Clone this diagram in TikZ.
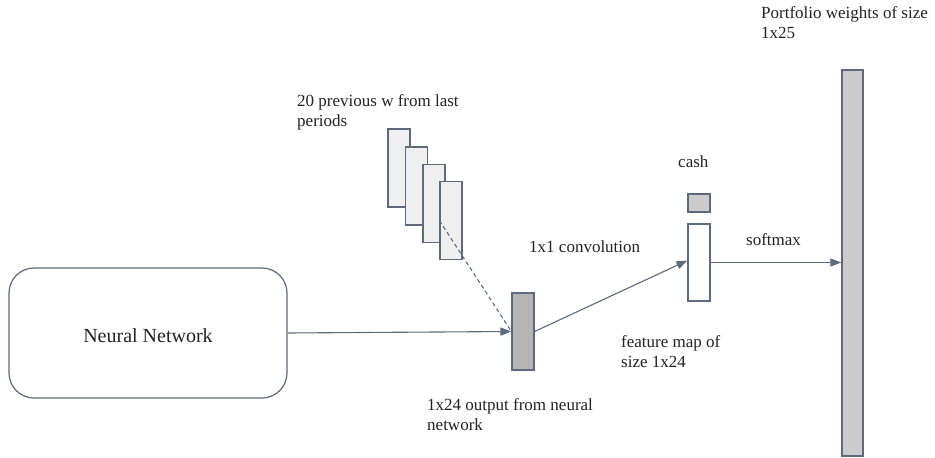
\documentclass[tikz,border=0pt]{standalone}
\usepackage{fontspec}
\setmainfont{Liberation Serif}
\usetikzlibrary{arrows.meta}
\definecolor{edge}{HTML}{5B6A7E}
\definecolor{lite}{HTML}{EFEFEF}
\definecolor{mid}{HTML}{CCCCCC}
\definecolor{dark}{HTML}{B5B5B5}
\definecolor{txt}{HTML}{222222}
\tikzset{
  bar/.style={draw=edge, line width=1.2pt, inner sep=0pt, minimum width=22pt},
  conn/.style={draw=edge, line width=1.1pt, -{Triangle[length=11pt,width=8pt]}},
  lbl/.style={inner sep=0pt, anchor=north west, align=left, text=txt, font=\fontsize{17}{20}\selectfont},
}
\begin{document}
\begin{tikzpicture}[x=1pt,y=-1pt]
\useasboundingbox (0,0) rectangle (935,458);
% boxes
\node[draw=edge, line width=1.2pt, rounded corners=25pt, minimum width=278pt, minimum height=130pt, inner sep=0pt] (nn) at (148,333) {};
\node[anchor=base, text=txt, font=\fontsize{20}{24}\selectfont, inner sep=0pt] (nnt) at (148,342) {Neural Network};
\node[bar, fill=lite, minimum height=78pt] (w1) at (399,168) {};
\node[bar, fill=lite, minimum height=78pt] (w2) at (416.5,186) {};
\node[bar, fill=lite, minimum height=78pt] (w3) at (434,203.5) {};
\node[bar, fill=lite, minimum height=78pt] (w4) at (451,220.5) {};
\node[bar, fill=dark, minimum height=77pt] (out) at (523,331.5) {};
\node[bar, fill=white, minimum height=77pt] (fm) at (699,262.5) {};
\node[bar, fill=mid, minimum height=18pt] (cash) at (699,203) {};
\node[bar, fill=mid, minimum width=21pt, minimum height=386pt] (pw) at (852.5,263) {};
% connectors
\draw[draw=edge, line width=1.1pt, dashed, dash pattern=on 4pt off 3pt] (w4.west) -- (out.west);
\draw[conn] (nn.east) -- (out.west);
\draw[conn] (out.east) -- ([yshift=2pt]fm.west);
\draw[conn] (fm.east) -- (pw.west |- fm.east);
% labels
\node[lbl] (lpw) at (761,6.4) {Portfolio weights of size\\1x25};
\node[lbl] (lprev) at (297,94.4) {20 previous w from last\\periods};
\node[lbl, anchor=base west] (lcash) at (678,167) {cash};
\node[lbl, anchor=base west] (lconv) at (529,252) {1x1 convolution};
\node[lbl, anchor=base west] (lsoft) at (746,245) {softmax};
\node[lbl] (lfm) at (621,335.4) {feature map of\\size 1x24};
\node[lbl] (lout) at (427,398.4) {1x24 output from neural\\network};
\end{tikzpicture}
\end{document}
